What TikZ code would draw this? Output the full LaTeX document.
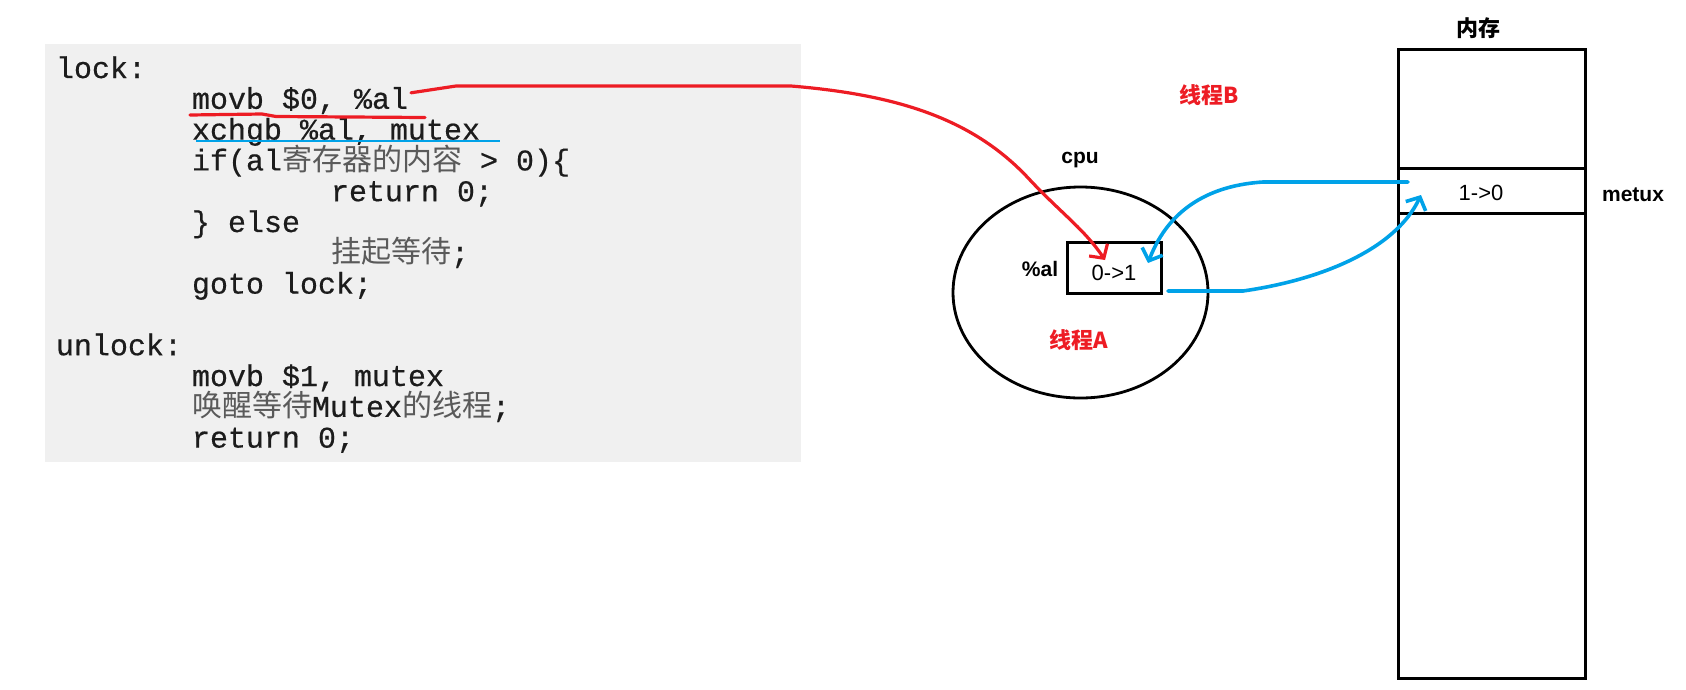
\documentclass[tikz,border=0pt]{standalone}
\usepackage{fontspec}
\setmainfont{Liberation Sans}
\setmonofont[FakeBold=0.5]{Liberation Mono}
\newfontfamily\cjk{Noto Sans CJK SC}
\usetikzlibrary{arrows.meta,calc,shapes.geometric}
\definecolor{pred}{RGB}{237,28,36}
\definecolor{pblue}{RGB}{0,162,232}
\definecolor{codebg}{RGB}{240,240,240}
\definecolor{codefg}{RGB}{28,28,28}
\definecolor{cjkfg}{RGB}{90,90,90}
\newcommand\cjktext[1]{{\cjk\color{cjkfg}#1}}
\begin{document}
\begin{tikzpicture}[x=1pt,y=-1pt,
  code/.style={anchor=base west,inner sep=0pt,outer sep=0pt,font=\fontsize{30}{30}\selectfont\ttfamily,text=codefg},
  lbl/.style={inner sep=0pt,outer sep=0pt,font=\fontsize{21}{21}\selectfont\bfseries},
  zhlbl/.style={inner sep=0pt,outer sep=0pt,font=\fontsize{22}{22}\selectfont\cjk\bfseries},
  val/.style={inner sep=0pt,outer sep=0pt,font=\fontsize{22}{22}\selectfont},
  box/.style={draw,line width=3pt,inner sep=0pt,outer sep=0pt},
  redpen/.style={draw=pred,line width=3.2pt,line cap=round,line join=round},
  bluepen/.style={draw=pblue,line width=3.6pt,line cap=round,line join=round},
  barb/.style={-{Straight Barb[length=10pt,width=22pt]}}
]
\useasboundingbox (0,0) rectangle (1686,689);

% code panel
\node[fill=codebg,inner sep=0pt,outer sep=0pt,minimum width=756pt,minimum height=418pt,anchor=north west] (codebox) at (45,44) {};
\node[code] (l1) at (56,78) {lock:};
\node[code] (l2) at (192,108.8) {movb \$0, \%al};
\node[code] (l3) at (192,139.6) {xchgb \%al, mutex};
\node[code] (l4) at (192,170.4) {if(al\cjktext{寄存器的内容} > 0)\{};
\node[code] (l5) at (331,201.2) {return 0;};
\node[code] (l6) at (192,232) {\} else};
\node[code] (l7) at (331,262.8) {\cjktext{挂起等待};};
\node[code] (l8) at (192,293.6) {goto lock;};
\node[code] (l9) at (56,355.2) {unlock:};
\node[code] (l10) at (192,386) {movb \$1, mutex};
\node[code] (l11) at (192,416.8) {\cjktext{唤醒等待}Mutex\cjktext{的线程};};
\node[code] (l12) at (192,447.6) {return 0;};

% underlines
\draw[redpen] (190,115) -- (262,114) -- (276,116.5) -- (425,117.5);
\draw[draw=pblue,line width=2.8pt] (196,141) -- (500,141);

% cpu
\node[draw,ellipse,line width=2.8pt,inner sep=0pt,outer sep=0pt,minimum width=255pt,minimum height=211pt] (cpu) at (1080.5,292.5) {};
\node[lbl] (cpulbl) at (1080,160) {cpu};
\node[box,minimum width=94pt,minimum height=51pt] (reg) at (1114,267.5) {};
\node[val] (regval) at (1114,273) {0->1};
\node[lbl] (allbl) at (1040,269) {\%al};
\node[zhlbl,text=pred] (ta) at (1079,340) {线程A};
\node[zhlbl,text=pred] (tb) at (1209,95) {线程B};

% memory
\node[zhlbl] (memlbl) at (1478,28) {内存};
\node[box,minimum width=187pt,minimum height=119pt,anchor=north west] (memtop) at (1398,49) {};
\node[box,minimum width=187pt,minimum height=45pt,anchor=north west] (cell) at (1398,168) {};
\node[box,minimum width=187pt,minimum height=465pt,anchor=north west] (membot) at (1398,213) {};
\node[val] (cellval) at (1481,193) {1->0};
\node[lbl] (metux) at (1633,195) {metux};

% connectors
\coordinate (redstart) at ($(l2.base east)+(3,-16)$);
\coordinate (redend) at ($(reg.north west)+(38,18)$);
\coordinate (b1start) at ($(cell.west)+(10,-8.5)$);
\coordinate (b1end) at ($(reg.north east)+(-13,21)$);
\coordinate (b2start) at ($(reg.south east)+(7,-2)$);
\coordinate (b2end) at ($(cell.west)+(23,4.5)$);

\draw[redpen,barb] (redstart) -- (456,86) -- (791,86) .. controls (900,95) and (975,120) .. (1030,180) .. controls (1060,212) and (1085,230) .. (redend);
\draw[bluepen,barb] (b1start) -- (1263,182) .. controls (1215,185) and (1170,205) .. (b1end);
\draw[bluepen,barb] (b2start) -- (1243,291) .. controls (1320,280) and (1395,250) .. (b2end);
\end{tikzpicture}
\end{document}
